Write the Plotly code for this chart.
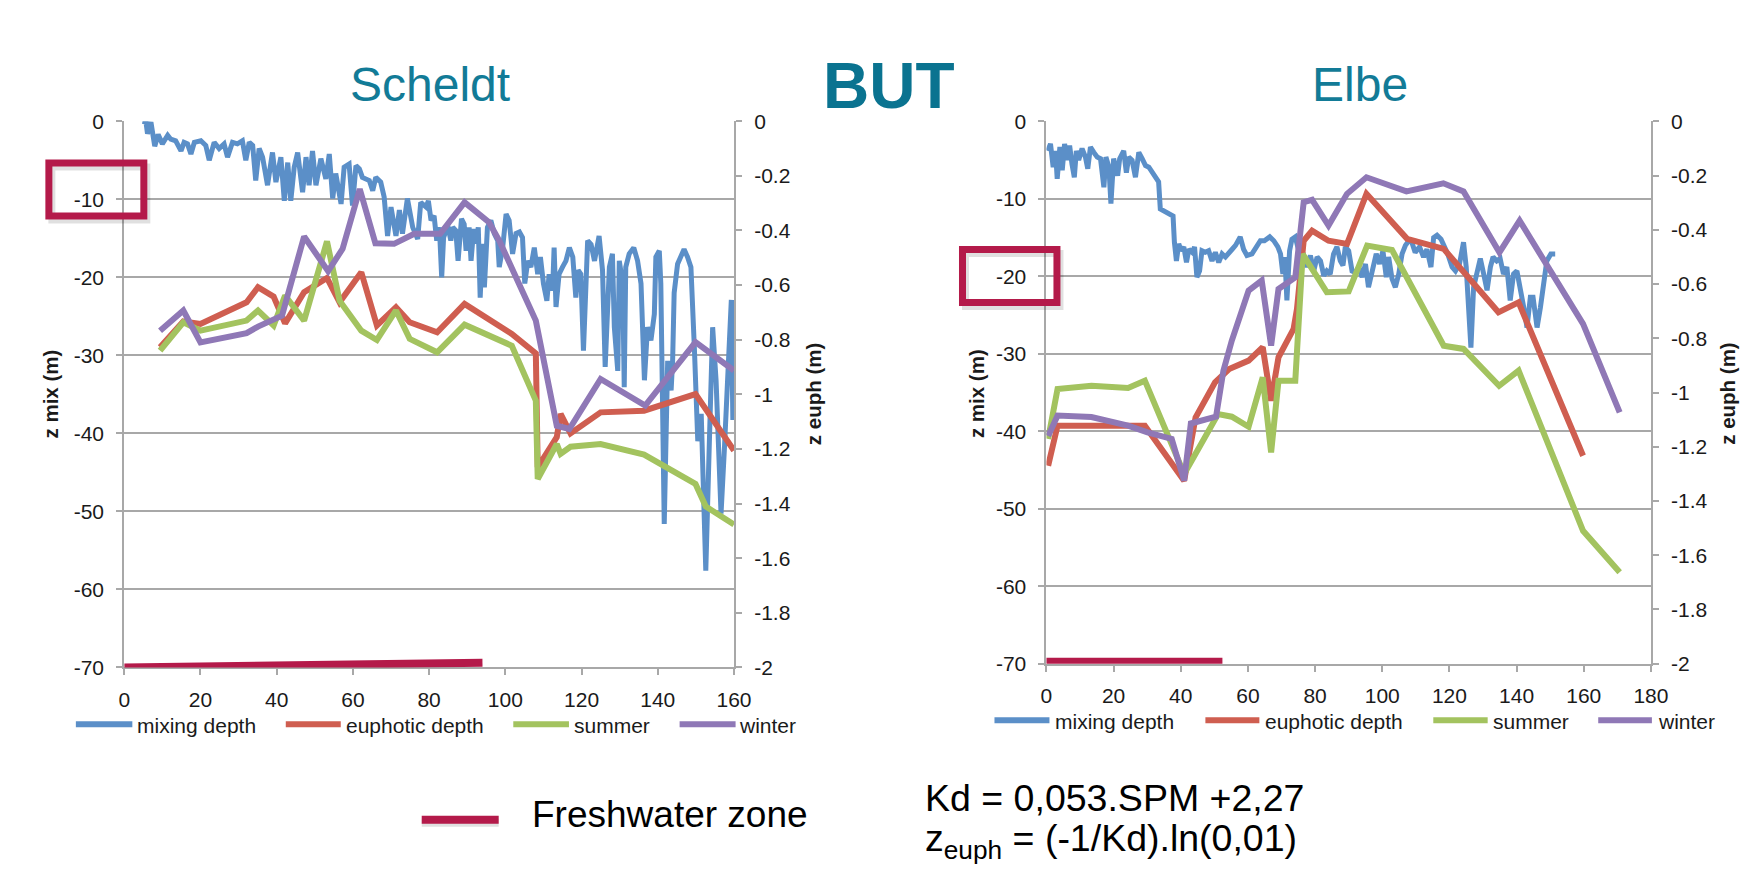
import plotly.graph_objects as go

# Page is 1762x890; the browser keeps an 8px body margin, so the figure is 16px smaller.
PAGE_W, PAGE_H = 1762, 890
OFF = 8
W, H = PAGE_W - 2 * OFF, PAGE_H - 2 * OFF
# measured correction between requested page position and photographed position
A_X, B_X = 0.9918, 4.6
A_Y, B_Y = 0.9734, 11.7
K_X, X_PIVOT = 0.0052, 123.4

# ---------------- Scheldt data ----------------
sch_mix_x = [4.8, 5.7, 6.1, 7.0, 8.0, 8.9, 10.0, 11.4, 12.2, 13.5, 14.9, 15.7, 16.6, 17.5, 18.4, 20.1, 21.4, 22.3, 23.6,
             24.9, 26.2, 27.1, 28.4, 29.7, 31.0, 31.9, 32.8, 33.7, 34.5, 35.4, 36.3, 37.6, 38.9, 39.8, 41.1, 42.0, 42.9,
             43.7, 44.6, 45.5, 46.8, 47.7, 48.5, 49.4, 50.3, 51.6, 52.9, 53.8, 54.7, 55.5, 56.9, 57.7, 59.0, 59.9, 60.8,
             61.7, 62.5, 64.3, 65.2, 66.0, 67.3, 68.2, 69.1, 70.0, 71.3, 72.2, 73.0, 74.3, 75.7, 77.0,
             77.8, 79.2, 79.8, 80.5, 81.3, 82.0, 82.7, 83.3, 83.8, 84.9, 85.7, 86.2, 87.0, 87.6, 88.5, 89.2, 89.7, 90.5,
             91.0, 91.7, 92.3, 92.9, 93.4, 94.0, 94.5, 95.3, 96.2, 97.1, 98.0, 98.4, 99.3, 100.2, 101.0, 101.9, 102.8,
             103.7, 104.5, 105.1, 105.9, 106.7, 107.6, 108.5, 109.2, 110.0, 110.9, 111.5, 112.4, 112.8, 113.3, 114.1,
             115.0, 115.9, 116.8, 117.7, 118.5, 119.1, 119.8,
             120.5, 121.6, 122.5, 123.4, 124.6, 125.5, 126.2, 127.3, 128.1, 128.6, 129.5, 129.9, 130.8, 131.2, 131.6,
             132.5, 133.7, 134.7, 135.6, 136.5, 137.3, 138.2, 139.1, 139.5, 140.4, 140.8, 141.7, 142.6, 143.5, 143.9,
             144.3, 145.2, 146.9, 147.8, 148.7, 149.6, 150.5, 151.4, 152.6, 153.5, 154.4, 155.3, 156.6, 157.5, 158.4,
             159.3, 159.7, 160.0]
sch_mix_y = [0.0, -0.1, -1.6, -0.1, -3.2, -1.7, -2.9, -1.8, -2.3, -2.5, -3.8, -2.7, -2.9, -4.2, -2.7, -2.5, -3.1, -5.0, -2.7,
             -3.5, -2.9, -4.6, -2.7, -2.9, -2.5, -5.0, -2.7, -3.1, -7.6, -3.5, -4.6, -8.2, -4.0, -7.8, -4.6, -10.2, -5.3,
             -10.2, -5.9, -4.0, -9.1, -4.6, -8.2, -3.8, -8.2, -4.8, -7.4, -4.2, -9.9, -6.7, -10.6, -5.9, -5.5, -10.8, -5.7,
             -6.1, -7.2, -7.6, -8.9, -7.2, -7.8, -9.7, -14.7, -11.0, -14.7, -11.4, -14.4, -9.9, -13.6, -15.1,
             -10.4, -11.0, -10.2, -12.7, -12.1, -15.3, -13.6, -20.0, -14.9, -13.4, -15.3, -13.6, -14.0, -17.9, -12.5,
             -13.2, -16.6, -13.6, -17.9, -13.8, -15.7, -13.6, -22.6, -15.7, -21.3, -13.6, -12.7, -14.4, -15.3, -18.7,
             -16.2, -11.9, -12.7, -17.0, -14.4, -14.2, -14.9, -20.8, -17.9, -18.7, -16.2, -19.6, -17.4, -20.8, -23.0,
             -19.6, -21.7, -16.2, -23.8, -19.6, -18.7, -17.9, -16.2, -17.4, -22.6, -19.1, -19.6,
             -29.4, -15.3, -15.8, -17.9, -14.7, -19.1, -31.5, -18.7, -17.0, -26.4, -32.0, -17.9, -20.8, -34.1, -18.7,
             -17.0, -16.2, -17.9, -20.8, -33.2, -26.4, -28.1, -24.7, -17.4, -16.6, -20.8, -51.6, -30.7, -34.5, -30.7,
             -22.0, -18.3, -16.4, -17.4, -18.7, -29.0, -41.0, -37.5, -57.6, -41.8, -26.4, -33.2, -50.3, -41.8, -30.3,
             -22.9, -38.3, -22.9]

sch_eu_x = [9.4, 15.5, 20.0, 32.1, 35.1, 39.2, 42.2, 47.2, 53.2, 56.5, 62.2, 66.3, 71.3, 74.9, 82.1, 89.3, 101.7, 108.0,
            108.5, 113.5, 114.5, 117.1, 125.0, 136.4, 149.9, 160.0]
sch_eu_y = [-0.828, -0.733, -0.742, -0.663, -0.608, -0.642, -0.74, -0.626, -0.574, -0.663, -0.553, -0.748, -0.681,
            -0.736, -0.773, -0.669, -0.779, -0.85, -1.267, -1.157, -1.072, -1.143, -1.066, -1.06, -0.999, -1.206]

sch_sum_x = [9.4, 15.5, 20.0, 32.1, 35.1, 39.2, 42.2, 47.2, 53.2, 56.5, 62.2, 66.3, 71.3, 74.9, 82.1, 89.3, 101.7, 108.0,
             108.5, 113.5, 114.5, 117.1, 125.0, 136.4, 149.9, 152.6, 160.0]
sch_sum_y = [-0.84, -0.736, -0.767, -0.73, -0.693, -0.748, -0.638, -0.73, -0.44, -0.657, -0.767, -0.801, -0.693, -0.797,
             -0.846, -0.745, -0.822, -1.023, -1.31, -1.182, -1.218, -1.192, -1.182, -1.221, -1.328, -1.411, -1.477]

sch_win_x = [9.4, 15.5, 20.0, 32.1, 35.1, 41.4, 47.2, 53.5, 57.3, 61.8, 65.9, 70.8, 76.1, 82.9, 89.3, 95.7, 98.5, 108.0,
             113.5, 116.8, 125.0, 136.7, 149.9, 160.0]
sch_win_y = [-0.767, -0.693, -0.81, -0.776, -0.752, -0.712, -0.422, -0.549, -0.467, -0.248, -0.447, -0.449, -0.412,
             -0.412, -0.297, -0.37, -0.44, -0.73, -1.115, -1.127, -0.944, -1.041, -0.809, -0.913]

sch_fresh_x = [0, 94]
sch_fresh_y = [-70, -69.4]

# ---------------- Elbe data ----------------
elb_mix_x = [0.4, 1.2, 2.0, 2.7, 3.2, 4.0, 4.7, 5.4, 6.2, 6.9, 7.6, 8.3, 8.9, 9.6, 10.6, 11.6, 12.3, 13.1, 14.1, 15.1,
             16.1, 17.1, 17.7, 18.6, 19.2, 20.0, 21.2, 21.8, 23.0, 23.8, 24.5, 25.5, 26.5, 27.5, 28.5, 29.5, 30.5, 31.5,
             32.4, 33.4, 33.9, 35.4, 36.4, 37.7, 38.1, 38.7, 39.4, 40.1, 40.9, 41.7, 42.4, 43.4, 44.1, 44.8, 45.6, 46.3,
             47.3, 48.3, 49.3, 50.3, 51.3, 52.3, 53.3, 54.3, 55.3, 56.3, 57.7, 58.7, 59.7, 61.2, 62.7, 63.7, 64.9, 66.5,
             67.7, 68.9, 69.7, 70.4, 71.0, 71.6, 72.4, 73.1, 74.1,
             75.6, 76.6, 77.6, 78.6, 79.6, 80.6, 81.6, 82.6, 83.5, 84.5, 85.5, 86.5, 87.5, 88.3, 89.0, 90.0, 91.0, 92.0,
             93.0, 94.0, 95.0, 95.9, 96.9, 98.2, 99.2, 100.2, 101.2, 101.9, 102.9, 103.9, 104.9, 105.9, 106.9, 107.9,
             108.8, 109.8, 111.1, 112.3, 113.3, 114.5, 115.3, 116.3, 117.5, 118.5, 119.5, 120.8, 121.8, 123.0, 124.2,
             125.0, 125.7, 126.4, 127.2, 128.2, 129.2, 130.2, 131.2, 132.2, 133.0, 134.1, 135.1, 136.1, 137.1, 138.1,
             139.1, 140.1, 141.3, 142.3, 143.1, 144.1, 144.9, 146.1, 147.1, 148.1, 149.0, 150.2, 151.5]
elb_mix_y = [-3.8, -2.9, -5.9, -3.8, -7.4, -3.3, -6.3, -2.9, -5.0, -3.1, -5.5, -7.2, -3.8, -5.0, -3.5, -4.6, -6.1, -3.3,
             -4.0, -4.6, -4.8, -8.5, -4.6, -5.9, -10.6, -4.8, -7.0, -4.8, -3.8, -6.6, -4.6, -5.0, -7.2, -4.0, -4.8, -5.7,
             -5.9, -6.6, -7.4, -7.8, -11.3, -11.7, -11.9, -12.2, -15.6, -18.0, -15.8, -16.7, -16.2, -18.2, -16.5, -16.9,
             -16.2, -20.1, -19.3, -16.7, -16.9, -16.7, -18.0, -16.9, -18.2, -17.1, -17.5, -17.1, -16.5, -16.0, -14.9,
             -16.5, -17.3, -17.1, -16.2, -15.4, -15.4, -14.9, -15.4, -16.2, -17.1, -19.7, -17.5, -23.1, -16.7, -15.2,
             -14.9,
             -17.5, -17.3, -18.8, -17.3, -19.3, -17.5, -18.0, -19.9, -19.3, -19.7, -17.1, -16.2, -18.0, -18.6, -16.2,
             -16.7, -19.3, -19.5, -18.8, -20.1, -18.4, -21.4, -19.3, -17.1, -18.4, -16.7, -20.1, -17.5, -20.3, -21.4,
             -19.7, -17.1, -16.0, -15.4, -15.6, -16.9, -16.2, -17.5, -16.5, -18.8, -15.0, -14.7, -15.2, -16.0, -17.1,
             -18.8, -19.3, -18.4, -15.6, -18.8, -24.8, -29.2, -21.4, -19.3, -17.7, -19.7, -21.8, -18.8, -17.5, -18.0,
             -17.7, -19.7, -18.8, -23.1, -19.7, -19.3, -21.8, -24.4, -26.6, -22.7, -22.7, -26.6, -24.0, -20.1, -18.0,
             -17.1, -17.1]

elb_eu_x = [0.5, 3.3, 13.4, 29.3, 41.0, 44.4, 50.2, 54.4, 60.2, 64.4, 66.9, 69.1, 73.6, 74.6, 76.6, 79.1, 84.0, 89.5,
            95.3, 107.4, 118.3, 134.6, 140.6, 159.8]
elb_eu_y = [-1.27, -1.122, -1.122, -1.122, -1.325, -1.092, -0.962, -0.913, -0.882, -0.833, -1.03, -0.87, -0.765,
            -0.692, -0.44, -0.403, -0.44, -0.452, -0.267, -0.433, -0.47, -0.704, -0.667, -1.233]

elb_sum_x = [0.5, 3.3, 13.4, 24.3, 29.3, 41.0, 51.1, 55.2, 60.2, 64.4, 66.9, 69.1, 74.1, 76.3, 83.5, 90.0, 95.5, 102.9,
             118.3, 124.2, 134.8, 140.6, 159.8, 170.7]
elb_sum_y = [-1.171, -0.987, -0.975, -0.983, -0.956, -1.30, -1.079, -1.089, -1.126, -0.944, -1.221, -0.956, -0.956,
             -0.489, -0.63, -0.627, -0.458, -0.474, -0.827, -0.839, -0.975, -0.919, -1.51, -1.663]

elb_win_x = [0.5, 3.3, 13.4, 24.3, 30.1, 37.3, 41.0, 43.0, 50.5, 52.7, 55.2, 60.2, 64.1, 66.9, 69.1, 74.1, 76.6, 79.1,
             84.0, 89.5, 95.3, 107.2, 118.2, 124.2, 134.9, 140.9, 159.8, 170.7]
elb_win_y = [-1.16, -1.085, -1.09, -1.122, -1.147, -1.171, -1.325, -1.114, -1.089, -0.919, -0.808, -0.624, -0.587,
             -0.827, -0.618, -0.575, -0.298, -0.289, -0.384, -0.267, -0.206, -0.258, -0.228, -0.258, -0.483, -0.366,
             -0.747, -1.073]

elb_fresh_x = [-1.3, 52.4]
elb_fresh_y = [-69.75, -69.75]

# ---------------- ticks / labels ----------------
mix_ticks = [0, -10, -20, -30, -40, -50, -60, -70]
mix_ticktext = ["0", "-10", "-20", "-30", "-40", "-50", "-60", "-70"]
euph_ticks = [0, -0.2, -0.4, -0.6, -0.8, -1.0, -1.2, -1.4, -1.6, -1.8, -2.0]
euph_ticktext = ["0", "-0.2", "-0.4", "-0.6", "-0.8", "-1", "-1.2", "-1.4", "-1.6", "-1.8", "-2"]
sch_xticks = [0, 20, 40, 60, 80, 100, 120, 140, 160]
elb_xticks = [0, 20, 40, 60, 80, 100, 120, 140, 160, 180]
series_names = ["mixing depth", "euphotic depth", "summer", "winter"]

# ---------------- styles ----------------
C_BLUE = "#5b8fc8"
C_RED = "#cf5e50"
C_GREEN = "#a3c35f"
C_PURPLE = "#8f78b6"
series_colors = [C_BLUE, C_RED, C_GREEN, C_PURPLE]
C_GRID = "#a8a8a8"
C_TEAL = "#127b97"
C_TEAL_DARK = "#0a7390"
C_CRIMSON = "#b41a4a"
C_TEXT = "#1a1a1a"
FONT = "Liberation Sans, Arial, Helvetica, sans-serif"
LW_BLUE = 5
LW = 6


def px(X):
    Xc = X + K_X * (X - X_PIVOT)
    return ((Xc - B_X) / A_X - OFF) / W


def py(Y):
    return 1 - ((Y - B_Y) / A_Y - OFF) / H


fig = go.Figure()

# Scheldt
fig.add_trace(go.Scatter(x=sch_mix_x, y=sch_mix_y, mode="lines", line=dict(color=C_BLUE, width=LW_BLUE),
                         xaxis="x", yaxis="y", name=series_names[0], showlegend=False))
fig.add_trace(go.Scatter(x=sch_eu_x, y=sch_eu_y, mode="lines", line=dict(color=C_RED, width=LW),
                         xaxis="x", yaxis="y2", name=series_names[1], showlegend=False))
fig.add_trace(go.Scatter(x=sch_sum_x, y=sch_sum_y, mode="lines", line=dict(color=C_GREEN, width=LW),
                         xaxis="x", yaxis="y2", name=series_names[2], showlegend=False))
fig.add_trace(go.Scatter(x=sch_win_x, y=sch_win_y, mode="lines", line=dict(color=C_PURPLE, width=LW),
                         xaxis="x", yaxis="y2", name=series_names[3], showlegend=False))
# Elbe
fig.add_trace(go.Scatter(x=elb_mix_x, y=elb_mix_y, mode="lines", line=dict(color=C_BLUE, width=LW_BLUE),
                         xaxis="x2", yaxis="y3", name=series_names[0], showlegend=False))
fig.add_trace(go.Scatter(x=elb_eu_x, y=elb_eu_y, mode="lines", line=dict(color=C_RED, width=LW),
                         xaxis="x2", yaxis="y4", name=series_names[1], showlegend=False))
fig.add_trace(go.Scatter(x=elb_sum_x, y=elb_sum_y, mode="lines", line=dict(color=C_GREEN, width=LW),
                         xaxis="x2", yaxis="y4", name=series_names[2], showlegend=False))
fig.add_trace(go.Scatter(x=elb_win_x, y=elb_win_y, mode="lines", line=dict(color=C_PURPLE, width=LW),
                         xaxis="x2", yaxis="y4", name=series_names[3], showlegend=False))

tickfont = dict(family=FONT, size=21, color=C_TEXT)
common_x = dict(showline=True, linecolor=C_GRID, linewidth=2, ticks="outside", ticklen=6, tickcolor=C_GRID,
                tickwidth=2, showgrid=False, zeroline=False, tickfont=tickfont, ticklabelstandoff=6)
common_yl = dict(showline=True, linecolor=C_GRID, linewidth=2, ticks="outside", ticklen=6, tickcolor=C_GRID,
                 tickwidth=2, showgrid=True, gridcolor=C_GRID, gridwidth=2, zeroline=False, tickfont=tickfont,
                 range=[-70, 0], tickvals=mix_ticks, ticktext=mix_ticktext, ticklabelstandoff=8)
common_yr = dict(showline=True, linecolor=C_GRID, linewidth=2, ticks="outside", ticklen=6, tickcolor=C_GRID,
                 tickwidth=2, showgrid=False, zeroline=False, tickfont=tickfont, side="right",
                 range=[-2, 0], tickvals=euph_ticks, ticktext=euph_ticktext, ticklabelstandoff=8)

fig.update_layout(
    width=W, height=H, margin=dict(l=0, r=0, t=0, b=0),
    paper_bgcolor="white", plot_bgcolor="rgba(0,0,0,0)",
    font=dict(family=FONT, color=C_TEXT),
    xaxis=dict(domain=[px(123.4), px(733.4)], range=[0, 160], tickvals=sch_xticks, anchor="y", **common_x),
    yaxis=dict(domain=[py(666.7), py(120.7)], anchor="x", **common_yl),
    yaxis2=dict(overlaying="y", anchor="x", **common_yr),
    xaxis2=dict(domain=[px(1046), px(1650.7)], range=[0, 180], tickvals=elb_xticks, anchor="y3", **common_x),
    yaxis3=dict(domain=[py(663), py(120.9)], anchor="x2", **common_yl),
    yaxis4=dict(overlaying="y3", anchor="x2", **common_yr),
)

shapes = []
# highlight boxes (shadow + box)
for (x0, y0, x1, y1) in [(48, 162.5, 143, 215.5), (962, 249, 1056.5, 302)]:
    shapes.append(dict(type="rect", xref="paper", yref="paper", x0=px(x0 + 3), x1=px(x1 + 3),
                       y0=py(y1 + 4), y1=py(y0 + 4), line=dict(color="rgba(0,0,0,0.12)", width=7)))
    shapes.append(dict(type="rect", xref="paper", yref="paper", x0=px(x0), x1=px(x1),
                       y0=py(y1), y1=py(y0), line=dict(color=C_CRIMSON, width=7)))

# freshwater bars (data coordinates)
shapes.append(dict(type="line", xref="x", yref="y", x0=sch_fresh_x[0], x1=sch_fresh_x[1],
                   y0=sch_fresh_y[0], y1=sch_fresh_y[1], line=dict(color=C_CRIMSON, width=8)))
shapes.append(dict(type="line", xref="x2", yref="y3", x0=elb_fresh_x[0], x1=elb_fresh_x[1],
                   y0=elb_fresh_y[0], y1=elb_fresh_y[1], line=dict(color=C_CRIMSON, width=8)))

# freshwater legend swatch
shapes.append(dict(type="line", xref="paper", yref="paper", x0=px(421), x1=px(498), y0=py(822), y1=py(822),
                   line=dict(color="rgba(0,0,0,0.12)", width=8)))
shapes.append(dict(type="line", xref="paper", yref="paper", x0=px(421), x1=px(498), y0=py(819), y1=py(819),
                   line=dict(color=C_CRIMSON, width=8)))

annotations = []
# custom legends
legend_sets = [
    (723.5, [(75, 131.5), (285, 340), (512.6, 568.3), (679, 735)], [134, 343, 571, 736.5]),
    (719.5, [(994, 1049), (1205, 1259), (1433, 1487.4), (1598, 1651.7)], [1053, 1263, 1491, 1656]),
]
for Y, segs, tx in legend_sets:
    for (a, b), t, name, col in zip(segs, tx, series_names, series_colors):
        shapes.append(dict(type="line", xref="paper", yref="paper", x0=px(a), x1=px(b), y0=py(Y), y1=py(Y),
                           line=dict(color=col, width=6)))
        annotations.append(dict(text=name, x=px(t), y=py(Y + 1.5), xref="paper", yref="paper",
                                xanchor="left", yanchor="middle", showarrow=False,
                                font=dict(family=FONT, size=21, color=C_TEXT)))

# titles
annotations.append(dict(text="Scheldt", x=px(429), y=py(84), xref="paper", yref="paper", showarrow=False,
                        xanchor="center", yanchor="middle", font=dict(family=FONT, size=48, color=C_TEAL)))
annotations.append(dict(text="Elbe", x=px(1360), y=py(84), xref="paper", yref="paper", showarrow=False,
                        xanchor="center", yanchor="middle", font=dict(family=FONT, size=48, color=C_TEAL)))
annotations.append(dict(text="<b>BUT</b>", x=px(888), y=py(85), xref="paper", yref="paper", showarrow=False,
                        xanchor="center", yanchor="middle", font=dict(family=FONT, size=64, color=C_TEAL_DARK)))

# axis titles
for X, txt in [(50, "z mix (m)"), (813, "z euph (m)"), (976, "z mix (m)"), (1727, "z euph (m)")]:
    annotations.append(dict(text="<b>" + txt + "</b>", x=px(X), y=py(393), xref="paper", yref="paper",
                            showarrow=False, textangle=-90, xanchor="center", yanchor="middle",
                            font=dict(family=FONT, size=20.5, color=C_TEXT)))

# freshwater label and formulas
annotations.append(dict(text="Freshwater zone", x=px(529), y=py(814), xref="paper", yref="paper", showarrow=False,
                        xanchor="left", yanchor="middle", font=dict(family=FONT, size=37, color="#000000")))
annotations.append(dict(text="Kd = 0,053.SPM +2,27", x=px(922), y=py(797), xref="paper", yref="paper",
                        showarrow=False, xanchor="left", yanchor="middle",
                        font=dict(family=FONT, size=37.5, color="#000000")))
annotations.append(dict(text="z<sub>euph</sub> = (-1/Kd).ln(0,01)", x=px(922), y=py(840), xref="paper",
                        yref="paper", showarrow=False, xanchor="left", yanchor="middle",
                        font=dict(family=FONT, size=37.5, color="#000000")))

fig.update_layout(shapes=shapes, annotations=annotations)

fig.write_html("out.html", config={"displayModeBar": False})
